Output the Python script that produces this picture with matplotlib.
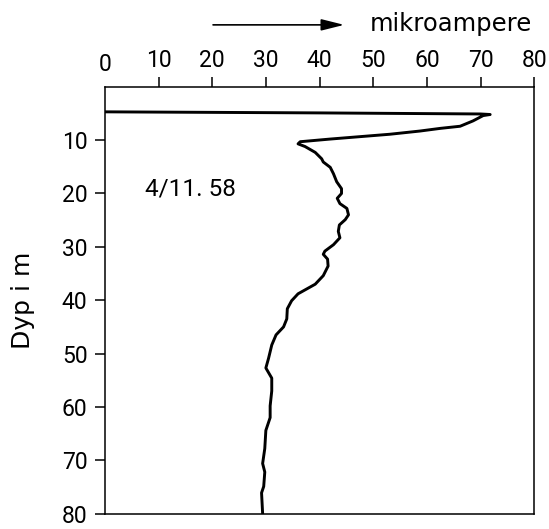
import matplotlib.pyplot as plt

# strøm (mikroampere) og dyp (m), avlest fra kurven 4/11. 58
strom = [0, 40, 70, 71.8, 70.5, 68.6, 66.2, 62.5, 58.7, 53.1, 49.4, 42.0, 36.4, 36.0, 37.3,
         39.2, 40.4, 40.7, 42.0, 42.6, 43.2, 44.1, 44.1, 43.3, 43.8, 45.1, 45.4, 44.8, 43.7,
         43.5, 43.8, 42.6, 41.0, 40.7, 41.5, 41.6, 40.7, 39.2, 37.6, 36.0, 34.8, 34.0, 33.9,
         33.3, 31.9, 31.1, 30.5, 30.0, 31.1, 31.1, 30.8, 30.8, 30.0, 29.8, 29.4, 29.8, 29.6,
         29.2, 29.4]
dyp = [4.7, 4.9, 5.1, 5.2, 5.4, 6.4, 7.4, 7.8, 8.3, 8.9, 9.2, 9.8, 10.3, 10.7, 11.2,
       12.3, 13.5, 14.1, 15.1, 16.3, 17.8, 19.1, 20.0, 20.9, 21.9, 22.8, 24.0, 24.9, 25.9,
       27.1, 28.3, 29.6, 30.8, 31.4, 32.3, 33.6, 35.4, 37.0, 37.9, 38.8, 40.1, 41.6, 43.5,
       45.0, 46.5, 48.4, 50.9, 52.7, 54.6, 57.0, 59.8, 62.0, 64.4, 67.8, 70.6, 72.2, 74.9,
       76.1, 80.0]
xticks = [10, 20, 30, 40, 50, 60, 70, 80]
yticks = [10, 20, 30, 40, 50, 60, 70, 80]
dato = "4/11. 58"

FONT = ['Roboto', 'DejaVu Sans']


def main():
    fig = plt.figure(figsize=(5.49, 5.29), dpi=100)
    ax = fig.add_axes([0.191, 0.029, 0.782, 0.807])

    ax.plot(strom, dyp, color='black', lw=2.1, solid_joinstyle='round', solid_capstyle='round')
    ax.set_xlim(0, 80)
    ax.set_ylim(80, 0)

    ax.xaxis.tick_top()
    ax.set_xticks(xticks)
    ax.set_yticks(yticks)
    ax.tick_params(direction='out', length=7, width=1.1, labelsize=16.5)
    ax.tick_params(axis='x', pad=3.5)
    ax.tick_params(axis='y', pad=5.5)
    for lab in ax.get_xticklabels() + ax.get_yticklabels():
        lab.set_family(FONT)
    for lab in ax.get_yticklabels():
        lab.set_verticalalignment('center_baseline')
    for s in ax.spines.values():
        s.set_linewidth(1.1)

    # "0" står ved hjørnet uten strek
    fig.text(0.191, 0.879, "0", ha='center', va='center', fontsize=16.5, family=FONT)

    ax.text(7.46, 20.3, dato, ha='left', va='baseline', fontsize=17.5, family=FONT)

    fig.text(0.674, 0.941, "mikroampere", ha='left', va='baseline', fontsize=17.5)
    ax.annotate("", xy=(0.632, 0.953), xytext=(0.383, 0.953), xycoords='figure fraction',
                arrowprops=dict(arrowstyle='-|>,head_length=1.4,head_width=0.35', color='black', lw=1.2))

    fig.text(0.042, 0.433, "Dyp i m", rotation=90, ha='center', va='center', fontsize=18)

    plt.savefig("out.png", dpi=100)


if __name__ == '__main__':
    main()
